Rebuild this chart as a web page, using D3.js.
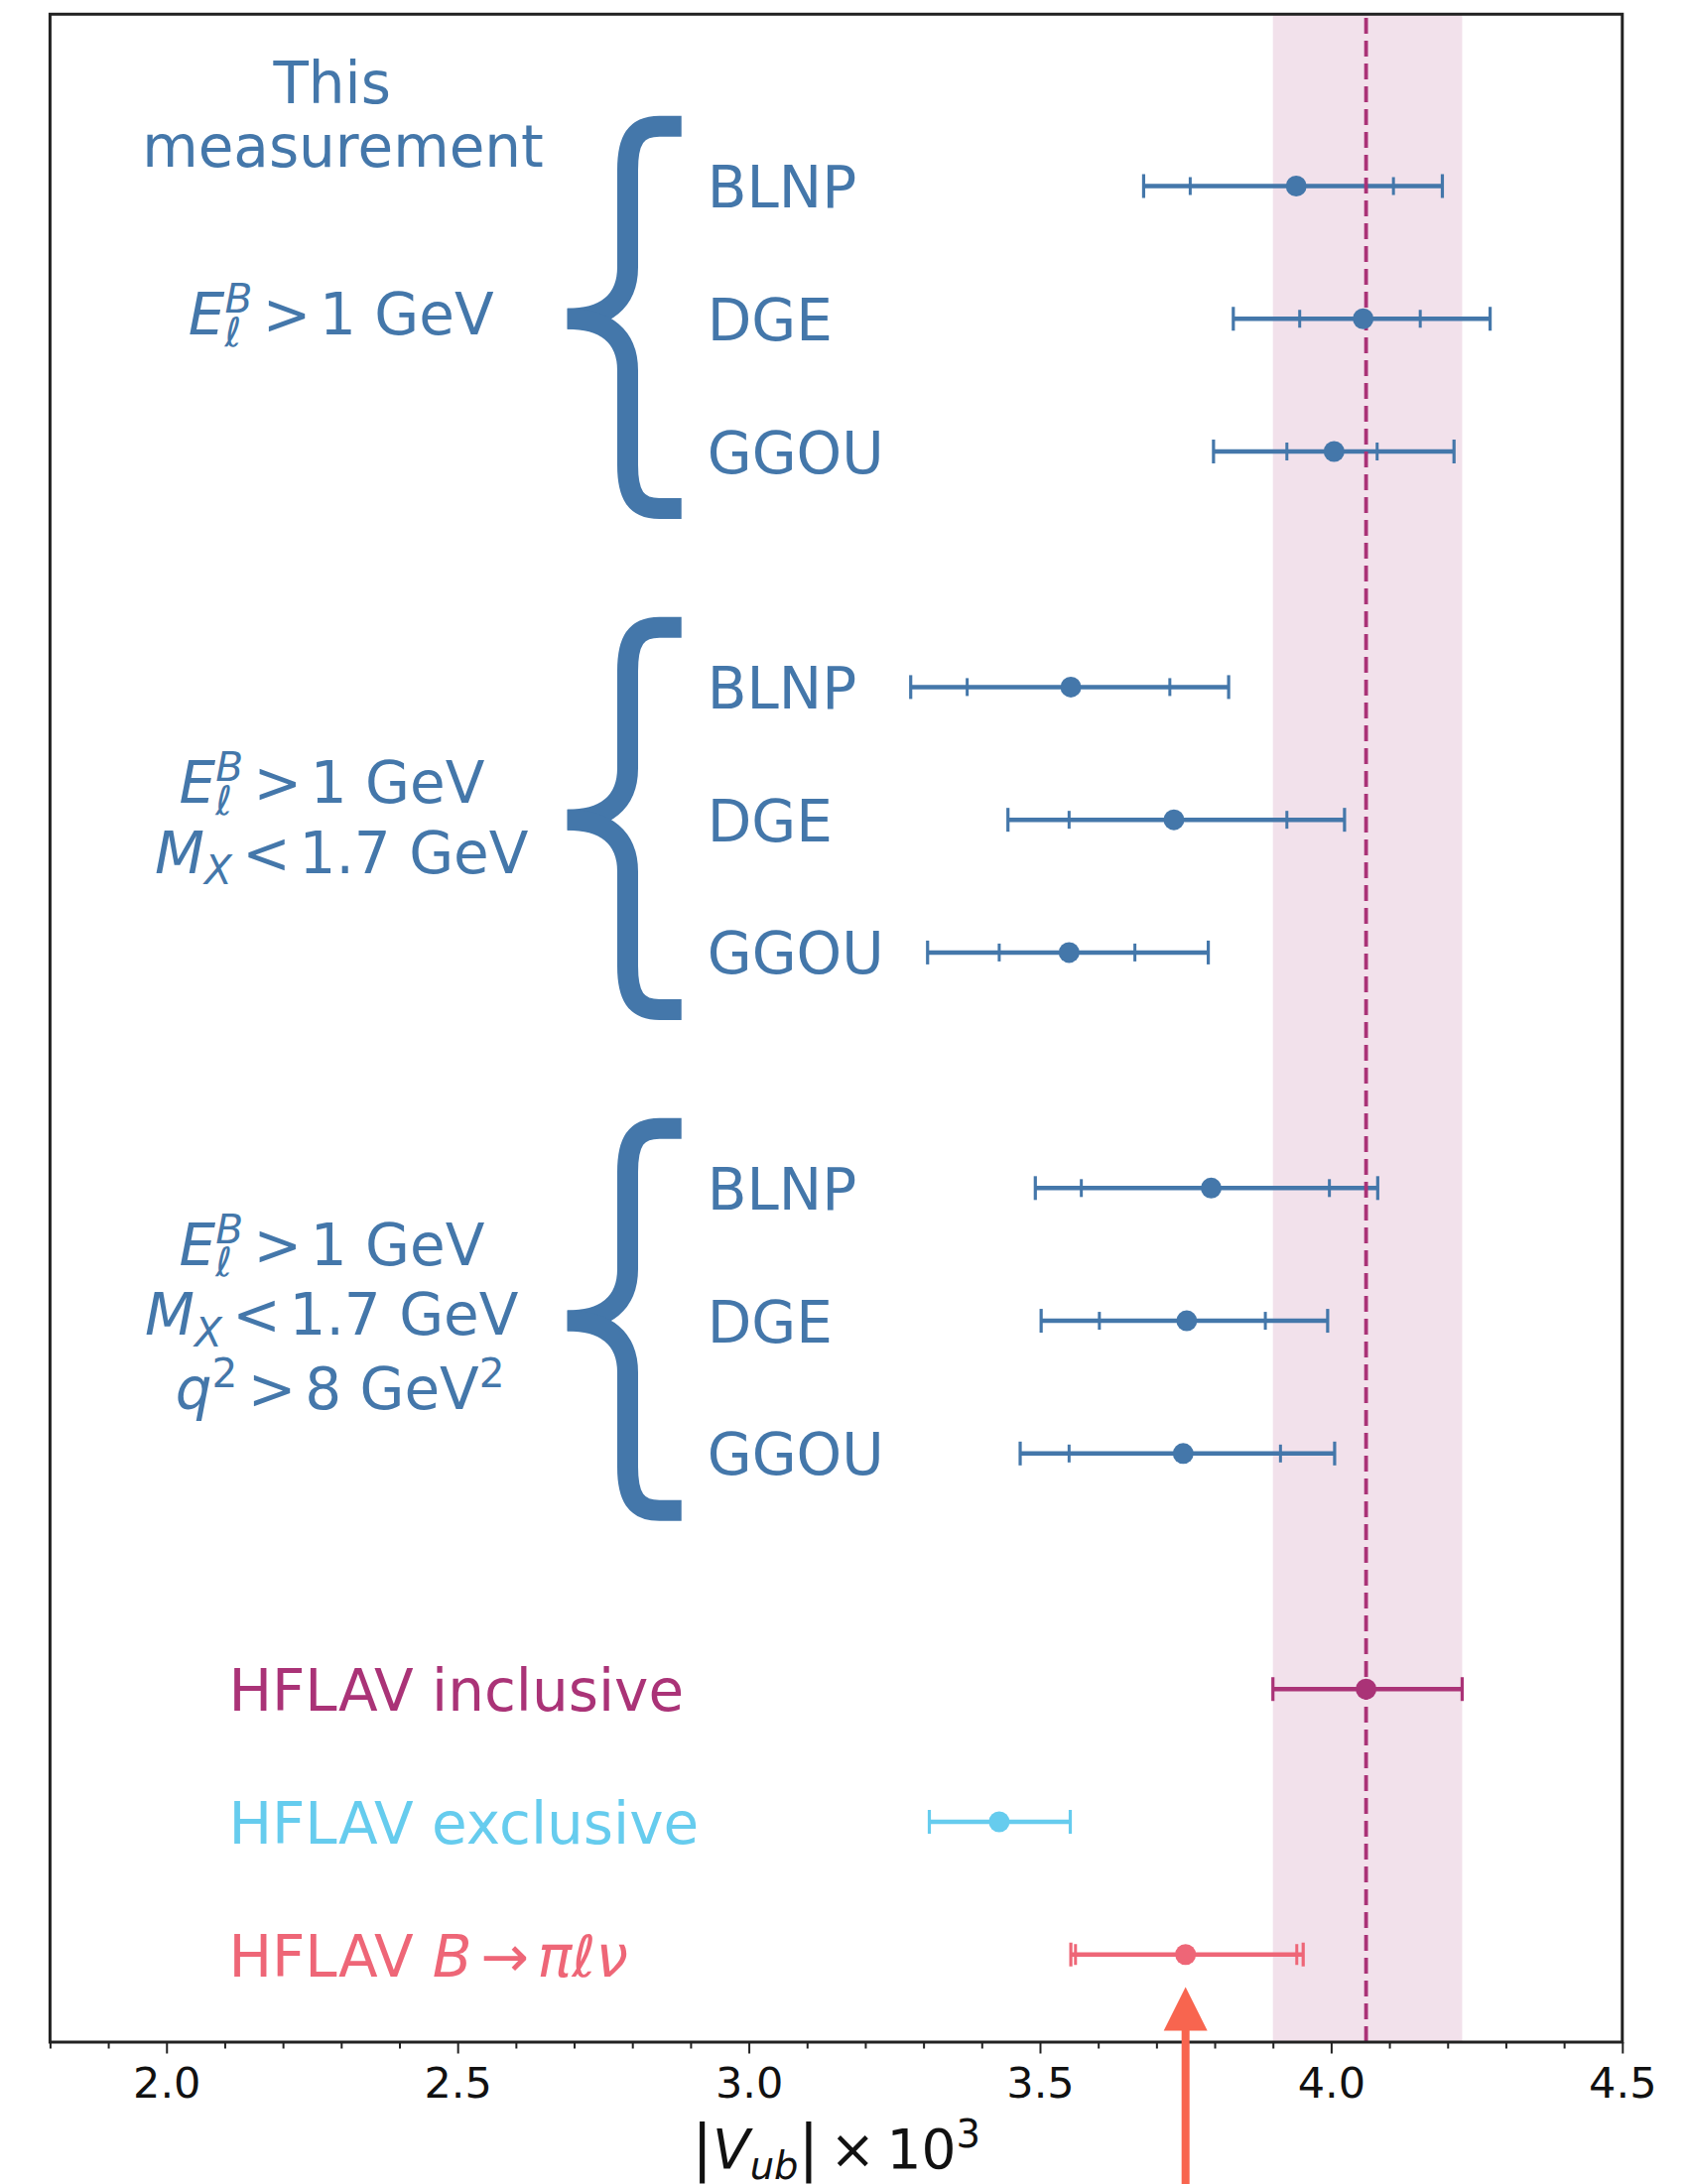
<!DOCTYPE html>
<html>
<head>
<meta charset="utf-8">
<script src="https://cdn.jsdelivr.net/npm/d3@7"></script>
<style>
  html, body { margin: 0; padding: 0; background: #ffffff; }
  svg { display: block; }
  text { font-family: "DejaVu Sans", sans-serif; }
</style>
</head>
<body>
<div id="chart"></div>
<script>
// |Vub| results for three phase-space selections and three theory calculations,
// compared with the HFLAV averages.

const methods = ["BLNP", "DGE", "GGOU"];

// central values, per selection (rows) and method (columns)
const centralValues = [
  [3.940, 4.055, 4.005],
  [3.553, 3.730, 3.550],
  [3.794, 3.752, 3.746]
];
// inner (experimental) interval
const innerLow = [
  [3.758, 3.946, 3.924],
  [3.375, 3.550, 3.430],
  [3.571, 3.602, 3.550]
];
const innerHigh = [
  [4.107, 4.153, 4.079],
  [3.723, 3.924, 3.663],
  [3.997, 3.887, 3.913]
];
// outer (total) interval
const totalLow = [
  [3.678, 3.832, 3.798],
  [3.278, 3.445, 3.307],
  [3.492, 3.502, 3.466]
];
const totalHigh = [
  [4.191, 4.273, 4.211],
  [3.824, 4.023, 3.789],
  [4.080, 3.994, 4.006]
];

// HFLAV reference values
const refKeys = ["inclusive", "exclusive", "pilnu"];
const refCentral = [4.06, 3.43, 3.75];
const refLow = [3.90, 3.31, 3.561];
const refHigh = [4.225, 3.552, 3.941];
// second interval shown for B -> pi l nu
const refOuterLow = [null, null, 3.553];
const refOuterHigh = [null, null, 3.952];

const xTicks = [2.0, 2.5, 3.0, 3.5, 4.0, 4.5];
const xDomain = [1.8, 4.5];

// ---------------------------------------------------------------- layout
const W = 1701, H = 2201;
const plot = { left: 50.4, top: 14.3, right: 1634.8, bottom: 2058 };
const BLUE = "#4477AA", PURPLE = "#AA3377", CYAN = "#66CCEE", RED = "#EE6677";
const ARROW = "#F8654F", AXIS = "#222222";
const FS = 58;           // label font size
const groupStep = 3.775; // vertical distance between selection blocks, in row units

const svg = d3.select("#chart").append("svg")
  .attr("width", W).attr("height", H)
  .attr("viewBox", `0 0 ${W} ${H}`);

const x = d3.scaleLinear().domain(xDomain).range([plot.left, plot.right]);
const y = d3.scaleLinear().domain([-1.295, 13.985]).range([plot.top, plot.bottom]);

const rowPos = (g, m) => g * groupStep + m;

// One <text> of mixed upright/italic runs with super- and subscripts.
// parts: {s, it, sup, sub, stack, gap, big}
function mathText(parent, px, py, parts, size, color, anchor) {
  const probe = parent.append("text").attr("x", -9999).attr("y", -9999);
  const fsOf = p => (p.sup || p.sub) ? size * 0.7 : (p.big ? size * p.big : size);
  const widths = parts.map(p => {
    probe.style("font-size", fsOf(p) + "px").style("font-style", p.it ? "italic" : "normal").text(p.s);
    return probe.node().getComputedTextLength();
  });
  probe.remove();

  let cx = 0, prevStart = 0;
  const starts = parts.map((p, i) => {
    const start = p.stack ? prevStart : cx + (p.gap || 0) * size;
    cx = p.stack ? Math.max(cx, start + widths[i]) : start + widths[i];
    prevStart = start;
    return start;
  });
  const x0 = px + (anchor === "middle" ? -cx / 2 : 0);

  const t = parent.append("text").attr("fill", color);
  parts.forEach((p, i) => {
    t.append("tspan")
      .attr("x", x0 + starts[i])
      .attr("y", py + (p.sup ? -0.38 * size : p.sub ? 0.2 * size : 0))
      .style("font-size", fsOf(p) + "px")
      .style("font-style", p.it ? "italic" : "normal")
      .text(p.s);
  });
  return t;
}

// ---------------------------------------------------------------- band + rows
const incl = 0;
svg.append("rect")
  .attr("x", x(refLow[incl]))
  .attr("y", plot.top)
  .attr("width", x(refHigh[incl]) - x(refLow[incl]))
  .attr("height", plot.bottom - plot.top)
  .attr("fill", PURPLE).attr("fill-opacity", 0.15);

const rows = [];
for (let g = 0; g < 3; g++) {
  for (let m = 0; m < 3; m++) {
    rows.push({
      pos: rowPos(g, m), c: centralValues[g][m], color: BLUE,
      lo: totalLow[g][m], hi: totalHigh[g][m],
      ilo: innerLow[g][m], ihi: innerHigh[g][m], innerSmall: true
    });
  }
}
const refColors = [PURPLE, CYAN, RED];
refKeys.forEach((k, i) => {
  const hasOuter = refOuterLow[i] !== null;
  rows.push({
    pos: rowPos(3, i), c: refCentral[i], color: refColors[i],
    lo: hasOuter ? refOuterLow[i] : refLow[i],
    hi: hasOuter ? refOuterHigh[i] : refHigh[i],
    ilo: hasOuter ? refLow[i] : null, ihi: hasOuter ? refHigh[i] : null,
    innerSmall: false
  });
});

const bars = svg.append("g");
rows.forEach(r => {
  const yy = y(r.pos);
  const gb = bars.append("g").attr("stroke", r.color);
  gb.append("line").attr("x1", x(r.lo)).attr("x2", x(r.hi))
    .attr("y1", yy).attr("y2", yy).attr("stroke-width", 4.5);
  [r.lo, r.hi].forEach(v => gb.append("line")
    .attr("x1", x(v)).attr("x2", x(v))
    .attr("y1", yy - 12).attr("y2", yy + 12).attr("stroke-width", 3.2));
  if (r.ilo !== null) {
    const hh = r.innerSmall ? 9 : 10.5;
    [r.ilo, r.ihi].forEach(v => gb.append("line")
      .attr("x1", x(v)).attr("x2", x(v))
      .attr("y1", yy - hh).attr("y2", yy + hh).attr("stroke-width", 3));
  }
});

// inclusive average as a dashed vertical line
svg.append("line")
  .attr("x1", x(refCentral[incl])).attr("x2", x(refCentral[incl]))
  .attr("y1", plot.bottom).attr("y2", plot.top)
  .attr("stroke", PURPLE).attr("stroke-width", 3.8)
  .attr("stroke-dasharray", "16,7");

svg.append("g").selectAll("circle").data(rows).join("circle")
  .attr("cx", d => x(d.c)).attr("cy", d => y(d.pos)).attr("r", 10.5)
  .attr("fill", d => d.color);

// ---------------------------------------------------------------- braces
const braceG = svg.append("g")
  .attr("fill", "none").attr("stroke", BLUE)
  .attr("stroke-width", 21).attr("stroke-linecap", "butt");
for (let g = 0; g < 3; g++) {
  const yT = y(rowPos(g, 0) - 0.45), yM = y(rowPos(g, 1)), yB = y(rowPos(g, 2) + 0.43);
  const xE = 686.7, xV = 632.5, xT = 571.7;
  braceG.append("path").attr("d",
    `M${xE},${yT} H${xV + 32} C${xV + 8},${yT} ${xV},${yT + 14} ${xV},${yT + 44} ` +
    `V${yM - 52} C${xV},${yM - 18} ${xV - 22},${yM} ${xT},${yM}`);
  braceG.append("path").attr("d",
    `M${xT},${yM} C${xV - 22},${yM} ${xV},${yM + 18} ${xV},${yM + 52} ` +
    `V${yB - 44} C${xV},${yB - 14} ${xV + 8},${yB} ${xV + 32},${yB} H${xE}`);
}

// ---------------------------------------------------------------- text labels
const labels = svg.append("g");
// method names
for (let g = 0; g < 3; g++) {
  methods.forEach((m, mi) => {
    labels.append("text")
      .attr("x", 712.7).attr("y", y(rowPos(g, mi)) + 21.5)
      .attr("fill", BLUE).style("font-size", FS + "px")
      .text(m);
  });
}

labels.append("text").attr("x", 334.7).attr("y", 104.3)
  .attr("text-anchor", "middle").attr("fill", BLUE).style("font-size", FS + "px").text("This");
labels.append("text").attr("x", 345.5).attr("y", 167.9)
  .attr("text-anchor", "middle").attr("fill", BLUE).style("font-size", FS + "px").text("measurement");

const lineE = [
  { s: "E", it: true }, { s: "B", it: true, sup: true }, { s: "ℓ", it: true, sub: true, stack: true },
  { s: ">", gap: 0.18 }, { s: "1 GeV", gap: 0.15 }
];
const lineM = [
  { s: "M", it: true }, { s: "X", it: true, sub: true },
  { s: "<", gap: 0.18 }, { s: "1.7 GeV", gap: 0.15 }
];
const lineQ = [
  { s: "q", it: true }, { s: "2", sup: true },
  { s: ">", gap: 0.18 }, { s: "8 GeV", gap: 0.15 }, { s: "2", sup: true }
];

const mid = g => y(rowPos(g, 1));
mathText(labels, 343.7, mid(0) + 16, lineE, FS, BLUE, "middle");
mathText(labels, 334.5, mid(1) - 17, lineE, FS, BLUE, "middle");
mathText(labels, 344.2, mid(1) + 53.6, lineM, FS, BLUE, "middle");
mathText(labels, 334.5, mid(2) - 56.4, lineE, FS, BLUE, "middle");
mathText(labels, 334.2, mid(2) + 14.2, lineM, FS, BLUE, "middle");
mathText(labels, 342.7, mid(2) + 89.2, lineQ, FS, BLUE, "middle");

const refLabelParts = [
  [{ s: "HFLAV inclusive" }],
  [{ s: "HFLAV exclusive" }],
  [{ s: "HFLAV" }, { s: "B", it: true, gap: 0.33 }, { s: "→", gap: 0.15 }, { s: "πℓν", it: true, gap: 0.15 }]
];
refKeys.forEach((k, i) => {
  mathText(labels, 230.4, y(rowPos(3, i)) + 21.8, refLabelParts[i], FS, refColors[i], "start");
});

// ---------------------------------------------------------------- frame + axis
svg.append("rect")
  .attr("x", plot.left).attr("y", plot.top)
  .attr("width", plot.right - plot.left).attr("height", plot.bottom - plot.top)
  .attr("fill", "none").attr("stroke", AXIS).attr("stroke-width", 3);

const minorTicks = d3.range(18, 46).map(v => v / 10).filter(v => !xTicks.some(t => Math.abs(t - v) < 1e-9));
const minorAxis = d3.axisBottom(x).tickValues(minorTicks).tickSize(6.5).tickFormat("").tickSizeOuter(0);
const majorAxis = d3.axisBottom(x).tickValues(xTicks).tickSize(11.5).tickPadding(13.5)
  .tickFormat(d3.format(".1f")).tickSizeOuter(0);

const gMinor = svg.append("g").attr("transform", `translate(0,${plot.bottom})`).call(minorAxis);
const gMajor = svg.append("g").attr("transform", `translate(0,${plot.bottom})`).call(majorAxis);
[gMinor, gMajor].forEach(g => {
  g.select(".domain").remove();
  g.selectAll(".tick line").attr("stroke", AXIS).attr("stroke-width", 2);
});
gMajor.selectAll(".tick text")
  .attr("fill", "#111")
  .style("font-family", "'DejaVu Sans', sans-serif")
  .style("font-size", "43px");

// axis title |V_ub| x 10^3
mathText(svg, (plot.left + plot.right) / 2, 2184.5, [
  { s: "|", big: 1.12 }, { s: "V", it: true }, { s: "ub", it: true, sub: true }, { s: "|", big: 1.12 },
  { s: "×", gap: 0.2 }, { s: "10", gap: 0.2 }, { s: "3", sup: true }
], 55, "#111", "middle");

// ---------------------------------------------------------------- arrow under the B -> pi l nu point
const ax = x(refCentral[2]);
const tipY = 2002.5, headY = 2046.5, headHalf = 22, shaftHalf = 4;
svg.append("path")
  .attr("d", `M${ax},${tipY} L${ax + headHalf},${headY} L${ax + shaftHalf},${headY} ` +
    `L${ax + shaftHalf},${H + 5} L${ax - shaftHalf},${H + 5} L${ax - shaftHalf},${headY} ` +
    `L${ax - headHalf},${headY} Z`)
  .attr("fill", ARROW);
</script>
</body>
</html>
